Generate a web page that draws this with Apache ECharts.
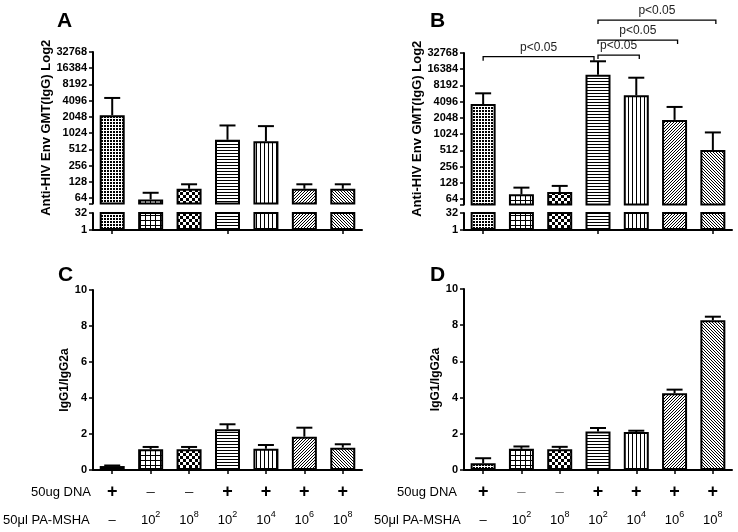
<!DOCTYPE html>
<html><head><meta charset="utf-8">
<script src="https://cdn.jsdelivr.net/npm/echarts@6/dist/echarts.min.js"></script>
<style>html,body{margin:0;padding:0;background:#fff}#c{width:738px;height:532px}</style>
</head><body><div id="c"></div>
<script>
// ---------- data ----------
const groups = ['DNA', 'PA 10^2', 'PA 10^8', 'DNA+PA 10^2', 'DNA+PA 10^4', 'DNA+PA 10^6', 'DNA+PA 10^8'];
const dnaRow = ['+', '–', '–', '+', '+', '+', '+'];
const paRow = ['–', '10|2', '10|8', '10|2', '10|4', '10|6', '10|8'];

const gmtA = [2200, 60, 95, 770, 720, 95, 95];
const gmtAErr = [4600, 80, 115, 1420, 1380, 115, 115];
const gmtB = [3700, 78, 86, 12900, 5360, 1880, 520];
const gmtBErr = [5850, 104, 112, 23000, 11400, 3270, 1100];
const ratioC = [0.22, 1.15, 1.15, 2.26, 1.18, 1.85, 1.24];
const ratioCErr = [0.25, 1.28, 1.28, 2.54, 1.39, 2.35, 1.43];
const ratioD = [0.37, 1.17, 1.15, 2.13, 2.10, 4.24, 8.27];
const ratioDErr = [0.65, 1.30, 1.28, 2.32, 2.17, 4.44, 8.47];

const gmtUpperTicks = [64, 128, 256, 512, 1024, 2048, 4096, 8192, 16384, 32768];
const gmtLowerTicks = [1, 32];
const ratioTicks = [0, 2, 4, 6, 8, 10];
// significance brackets in panel B: [from index, to index, level (titre units)]
const bracketsB = [[0, 3, 28000], [3, 4, 30000], [3, 5, 57000], [3, 6, 134000]];
const bracketLabel = 'p<0.05';

// ---------- patterns ----------
function pat(w, h, fn) {
  const c = document.createElement('canvas'); c.width = w; c.height = h;
  const ctx = c.getContext('2d');
  const img = ctx.createImageData(w, h);
  for (let y = 0; y < h; y++) for (let x = 0; x < w; x++) {
    const i = (y * w + x) * 4; const v = fn(x, y) ? 0 : 255;
    img.data[i] = img.data[i + 1] = img.data[i + 2] = v; img.data[i + 3] = 255;
  }
  ctx.putImageData(img, 0, 0);
  return { image: c, repeat: 'repeat' };
}
const patterns = [
  pat(3, 3, (x, y) => !(x === 1 && y === 1) && (x + y) % 2 === 0),
  pat(5, 5, (x, y) => x === 0 || y === 0),
  pat(6, 6, (x, y) => (Math.floor(x / 3) + Math.floor(y / 3)) % 2 === 0),
  pat(4, 3, (x, y) => y === 0),
  pat(4, 4, (x, y) => x === 0),
  pat(3, 3, (x, y) => (x + y) % 3 === 0),
  pat(3, 3, (x, y) => (x - y + 3) % 3 === 0)
];

const FONT = 'Liberation Sans, Arial, sans-serif';
const axisLineStyle = { color: '#000', width: 2 };
const tickLabel = { color: '#000', fontSize: 11, fontWeight: 'bold', fontFamily: FONT, margin: 6 };
const nameStyle = { color: '#000', fontSize: 12, fontWeight: 'bold', fontFamily: FONT };

function near(list, v) { return list.some(t => Math.abs(t - v) < 1e-6 * Math.max(1, t)); }

function catAxis(gi, opts) {
  return Object.assign({
    type: 'category', gridIndex: gi, data: groups, boundaryGap: true,
    axisLine: { show: true, lineStyle: axisLineStyle },
    axisTick: { show: true, alignWithLabel: true, length: 4, lineStyle: { color: '#000', width: 1.5 } },
    axisLabel: { show: false },
    splitLine: { show: false }
  }, opts || {});
}

function bottomLabels(rightPanel) {
  return {
    show: true, margin: 4, interval: 0, fontFamily: FONT,
    formatter: (v, i) => {
      const d = dnaRow[i] === '+' ? '{pm|+}' : '{mn|–}';
      const p = paRow[i].indexOf('|') >= 0 ? '{n|' + paRow[i].split('|')[0] + '}{s|' + paRow[i].split('|')[1] + '}' : '{n|–}';
      return d + '\n' + p;
    },
    rich: {
      pm: { fontSize: 18, fontWeight: 'bold', color: '#000', lineHeight: 36, fontFamily: FONT },
      mn: { fontSize: 15, color: rightPanel ? '#888' : '#333', lineHeight: 36, fontFamily: FONT },
      n: { fontSize: 13, color: '#000', lineHeight: 20, fontFamily: FONT },
      s: { fontSize: 9, color: '#000', verticalAlign: 'top', fontFamily: FONT }
    }
  };
}

function upperLog(gi, name, gap) {
  return {
    type: 'log', logBase: 2, gridIndex: gi, min: 50.6, max: 32768, splitNumber: 10,
    axisLine: { show: true, lineStyle: axisLineStyle },
    axisTick: { show: true, length: 4, lineStyle: { color: '#000', width: 1.5 } },
    axisLabel: Object.assign({}, tickLabel, { formatter: v => near(gmtUpperTicks, v) ? String(Math.round(v)) : '' }),
    splitLine: { show: false },
    name: name, nameLocation: 'middle', nameGap: gap, nameRotate: 90, nameTextStyle: Object.assign({}, nameStyle, { fontSize: 13 })
  };
}
function lowerLog(gi) {
  return {
    type: 'log', logBase: 32, gridIndex: gi, min: 1, max: 32,
    axisLine: { show: true, lineStyle: axisLineStyle },
    axisTick: { show: true, length: 4, lineStyle: { color: '#000', width: 1.5 } },
    axisLabel: Object.assign({}, tickLabel, { formatter: v => near(gmtLowerTicks, v) ? String(Math.round(v)) : '' }),
    splitLine: { show: false }
  };
}
function ratioAxis(gi, gap) {
  return {
    type: 'value', gridIndex: gi, min: 0, max: 10, interval: 2,
    axisLine: { show: true, lineStyle: axisLineStyle },
    axisTick: { show: true, length: 4, lineStyle: { color: '#000', width: 1.5 } },
    axisLabel: Object.assign({}, tickLabel, { formatter: v => near(ratioTicks, v) ? String(v) : '' }),
    splitLine: { show: false },
    name: 'IgG1/IgG2a', nameLocation: 'middle', nameGap: gap, nameRotate: 90, nameTextStyle: nameStyle
  };
}

function barSeries(ai, vals) {
  return {
    type: 'bar', xAxisIndex: ai, yAxisIndex: ai, barWidth: 25, clip: true, z: 2,
    data: vals.map((v, i) => ({ value: v, itemStyle: { color: patterns[i] } })),
    itemStyle: { borderColor: '#000', borderWidth: 2 },
    emphasis: { disabled: true }, animation: false
  };
}
function errSeries(ai, vals, errs) {
  return {
    type: 'custom', xAxisIndex: ai, yAxisIndex: ai, z: 3, animation: false,
    data: vals.map((v, i) => [i, v, errs[i]]),
    encode: { x: 0, y: [1, 2] },
    renderItem(params, api) {
      const i = api.value(0);
      const a = api.coord([i, api.value(1)]);
      const b = api.coord([i, api.value(2)]);
      const hw = 8;
      return { type: 'group', children: [
        { type: 'line', shape: { x1: a[0], y1: a[1], x2: b[0], y2: b[1] }, style: { stroke: '#000', lineWidth: 2 } },
        { type: 'line', shape: { x1: b[0] - hw, y1: b[1], x2: b[0] + hw, y2: b[1] }, style: { stroke: '#000', lineWidth: 2 } }
      ] };
    }
  };
}
const bracketSeries = {
  type: 'custom', xAxisIndex: 2, yAxisIndex: 2, z: 4, clip: false, animation: false,
  data: bracketsB, encode: { x: [0, 1], y: 2 },
  renderItem(params, api) {
    const from = api.value(0), to = api.value(1);
    const l = api.coord([from, api.value(2)]);
    const r = api.coord([to, api.value(2)]);
    const x1 = l[0], x2 = r[0] + (from === 3 ? 3 : -4), y = l[1];
    return { type: 'group', children: [
      { type: 'polyline', shape: { points: [[x1, y + 4], [x1, y], [x2, y], [x2, y + 4]] }, style: { stroke: '#000', lineWidth: 1.3, fill: null } },
      { type: 'text', style: { x: (x1 + x2) / 2, y: y - 3, text: bracketLabel, align: 'center', verticalAlign: 'bottom', fontSize: 12, fontFamily: FONT, fill: '#222' } }
    ] };
  }
};

const grids = [
  { left: 93, top: 52, width: 269, height: 151.5 },
  { left: 93, top: 213, width: 269, height: 17 },
  { left: 464, top: 53, width: 268, height: 151.5 },
  { left: 464, top: 213, width: 268, height: 17 },
  { left: 93, top: 290, width: 269, height: 180 },
  { left: 464, top: 289, width: 268, height: 181 }
].map(g => Object.assign({ containLabel: false, outerBoundsMode: 'none' }, g));

function letter(t, x, y) {
  return { type: 'text', left: x, top: y, style: { text: t, fontSize: 21, fontWeight: 'bold', fontFamily: FONT, fill: '#000' } };
}
function rowText(t, x, y, align) {
  return { type: 'text', x: x, y: y, style: { text: t, fontSize: 13, fontFamily: FONT, fill: '#000', align: align, verticalAlign: 'middle' } };
}

const option = {
  animation: false,
  backgroundColor: '#fff',
  textStyle: { fontFamily: FONT },
  grid: grids,
  xAxis: [
    catAxis(0, { axisLine: { show: false }, axisTick: { show: false } }),
    catAxis(1),
    catAxis(2, { axisLine: { show: false }, axisTick: { show: false } }),
    catAxis(3),
    catAxis(4, { axisLabel: bottomLabels(false) }),
    catAxis(5, { axisLabel: bottomLabels(true) })
  ],
  yAxis: [
    upperLog(0, 'Anti-HIV Env GMT(IgG) Log2', 28),
    lowerLog(1),
    upperLog(2, 'Anti-HIV Env GMT(IgG) Log2', 28),
    lowerLog(3),
    ratioAxis(4, 20),
    ratioAxis(5, 20)
  ],
  series: [
    barSeries(0, gmtA), barSeries(1, gmtA), errSeries(0, gmtA, gmtAErr),
    barSeries(2, gmtB), barSeries(3, gmtB), errSeries(2, gmtB, gmtBErr), bracketSeries,
    barSeries(4, ratioC), errSeries(4, ratioC, ratioCErr),
    barSeries(5, ratioD), errSeries(5, ratioD, ratioDErr)
  ],
  graphic: [
    letter('A', 57, 11), letter('B', 430, 11), letter('C', 58, 265), letter('D', 430, 265),
    rowText('50ug DNA', 91, 492, 'right'),
    rowText('50μl PA-MSHA', 3, 520, 'left'),
    rowText('50ug DNA', 457, 492, 'right'),
    rowText('50μl PA-MSHA', 374, 520, 'left')
  ]
};
const chart = echarts.init(document.getElementById('c'), null, { renderer: 'canvas' });
chart.setOption(option);
</script>
</body></html>
